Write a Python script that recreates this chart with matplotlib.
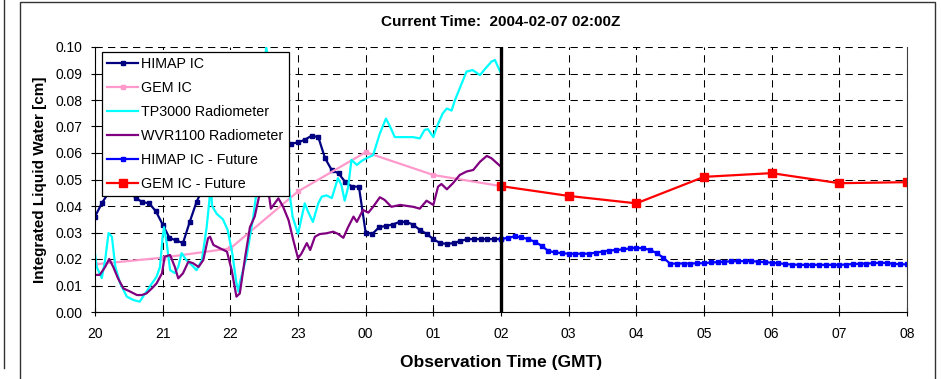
import numpy as np
import matplotlib
matplotlib.use("Agg")
import matplotlib.pyplot as plt
from matplotlib.patches import Rectangle
from matplotlib.lines import Line2D

plt.rcParams['font.family'] = ['Liberation Sans', 'DejaVu Sans']

# hours after 20Z
hour_ticks = list(range(13))
hour_labels = ["20", "21", "22", "23", "00", "01", "02", "03", "04", "05", "06", "07", "08"]

# HIMAP IC, one value every 6 min from 20Z to 02Z
himap_t = np.round(np.arange(0, 61) * 0.1, 1)
himap_v = [0.036, 0.041, 0.045, 0.048, 0.049, 0.046, 0.043, 0.0415, 0.041, 0.038,
           0.033, 0.028, 0.027, 0.026, 0.034, 0.0415, 0.047, 0.051, 0.054, 0.056,
           0.058, 0.059, 0.060, 0.060, 0.061, 0.061, 0.062, 0.062, 0.063, 0.0635,
           0.064, 0.065, 0.0665, 0.066, 0.058, 0.0535, 0.0523, 0.049, 0.0473, 0.0473,
           0.030, 0.0295, 0.032, 0.0325, 0.033, 0.034, 0.034, 0.033, 0.031, 0.0295,
           0.0275, 0.026, 0.0257, 0.026, 0.0268, 0.0275, 0.0275, 0.0275, 0.0275, 0.0275,
           0.0275]

# HIMAP IC - Future, 02Z to 08Z
himap_f_t = np.round(6 + np.arange(0, 61) * 0.1, 1)
himap_f_v = [0.0275, 0.0280, 0.0285, 0.0282, 0.0275, 0.0265, 0.0250, 0.0230, 0.0225, 0.0222,
             0.0220, 0.0220, 0.0220, 0.0220, 0.0224, 0.0228, 0.0232, 0.0234, 0.0236, 0.0240,
             0.0243, 0.0240, 0.0235, 0.0222, 0.0205, 0.0182, 0.0183, 0.0183, 0.0183, 0.0184,
             0.0184, 0.0187, 0.0188, 0.0190, 0.0191, 0.0192, 0.0192, 0.0192, 0.0190, 0.0188,
             0.0186, 0.0184, 0.0181, 0.0179, 0.0178, 0.0178, 0.0178, 0.0178, 0.0178, 0.0178,
             0.0178, 0.0179, 0.0181, 0.0182, 0.0183, 0.0184, 0.0186, 0.0185, 0.0182, 0.0180,
             0.0180]

gem_t = [0, 1, 2, 3, 4, 5, 6]
gem_v = [0.018, 0.0205, 0.024, 0.0455, 0.0603, 0.0517, 0.0475]

gem_f_t = [6, 7, 8, 9, 10, 11, 12]
gem_f_v = [0.0475, 0.0438, 0.041, 0.051, 0.0524, 0.0486, 0.049]

tp_t = [0.00, 0.025, 0.10, 0.15, 0.20, 0.25, 0.30, 0.37, 0.47, 0.57,
        0.66, 0.71, 0.81, 0.91, 0.96, 1.00, 1.02, 1.06, 1.11, 1.18,
        1.23, 1.28, 1.35, 1.43, 1.50, 1.58, 1.65, 1.69, 1.71, 1.73,
        1.80, 1.89, 1.96, 2.03, 2.09, 2.12, 2.14, 2.24, 2.34, 2.39,
        2.45, 2.53, 2.61, 2.73, 2.85, 2.92, 3.00, 3.10, 3.15, 3.22,
        3.30, 3.35, 3.42, 3.50, 3.59, 3.64, 3.69, 3.74, 3.79, 3.87,
        3.94, 4.01, 4.11, 4.21, 4.30, 4.36, 4.43, 4.70, 4.80, 4.87,
        4.92, 5.00, 5.07, 5.14, 5.20, 5.27, 5.32, 5.39, 5.49, 5.58,
        5.69, 5.76, 5.86, 5.91, 6.00]
tp_v = [0.022, 0.017, 0.0128, 0.0196, 0.0298, 0.0284, 0.0171, 0.0109, 0.0058, 0.0045,
        0.0039, 0.0058, 0.0096, 0.0133, 0.017, 0.0284, 0.032, 0.026, 0.0158, 0.0147,
        0.017, 0.0222, 0.0196, 0.0177, 0.0158, 0.0196, 0.032, 0.042, 0.050, 0.040,
        0.037, 0.035, 0.031, 0.022, 0.011, 0.0077, 0.011, 0.0209, 0.036, 0.046,
        0.075, 0.100, 0.085, 0.068, 0.050, 0.036, 0.0295, 0.041, 0.0378, 0.034,
        0.041, 0.0435, 0.044, 0.043, 0.0505, 0.048, 0.042, 0.047, 0.0574, 0.0555,
        0.057, 0.058, 0.0592, 0.0674, 0.073, 0.070, 0.066, 0.066, 0.0655, 0.0687,
        0.069, 0.066, 0.071, 0.075, 0.0768, 0.076, 0.080, 0.0844, 0.0907, 0.0913,
        0.0894, 0.0916, 0.0945, 0.0951, 0.090]

wvr_t = [0.00, 0.07, 0.15, 0.21, 0.27, 0.34, 0.42, 0.52, 0.62, 0.69,
         0.76, 0.84, 0.91, 0.99, 1.03, 1.11, 1.18, 1.23, 1.30, 1.38,
         1.45, 1.53, 1.60, 1.67, 1.70, 1.75, 1.85, 1.95, 2.02, 2.09,
         2.14, 2.22, 2.29, 2.36, 2.44, 2.50, 2.56, 2.60, 2.71, 2.78,
         2.86, 2.93, 3.00, 3.05, 3.13, 3.18, 3.25, 3.32, 3.42, 3.52,
         3.59, 3.67, 3.74, 3.82, 3.87, 3.96, 4.04, 4.11, 4.21, 4.28,
         4.38, 4.51, 4.70, 4.80, 4.90, 5.00, 5.07, 5.12, 5.20, 5.29,
         5.39, 5.49, 5.59, 5.69, 5.79, 5.86, 6.00]
wvr_v = [0.014, 0.014, 0.017, 0.020, 0.017, 0.0127, 0.0089, 0.0077, 0.0064, 0.0064,
         0.007, 0.0089, 0.0108, 0.0146, 0.0209, 0.0215, 0.017, 0.0127, 0.0146, 0.019,
         0.0184, 0.017, 0.0196, 0.0278, 0.0284, 0.0253, 0.024, 0.0228, 0.0158, 0.0058,
         0.007, 0.0209, 0.032, 0.036, 0.0454, 0.053, 0.046, 0.039, 0.0429, 0.0397,
         0.0347, 0.0272, 0.0203, 0.022, 0.026, 0.0234, 0.0284, 0.0294, 0.0297, 0.0303,
         0.0295, 0.028, 0.032, 0.036, 0.034, 0.0385, 0.0375, 0.0397, 0.0433, 0.0423,
         0.0397, 0.0404, 0.0397, 0.039, 0.042, 0.0404, 0.0473, 0.0483, 0.0463, 0.0486,
         0.0517, 0.053, 0.0536, 0.0567, 0.0589, 0.058, 0.0548]

current_hour = 6

fig = plt.figure(figsize=(9.41, 3.79), dpi=100)
W, H = 941, 379
ax = fig.add_axes([95 / W, 1 - 312 / H, (907 - 95) / W, (312 - 47) / H])

ax.plot(himap_t, himap_v, color="#000080", lw=1.6, marker="s", ms=3.2, label="HIMAP IC")
ax.plot(gem_t, gem_v, color="#FF99CC", lw=1.6, marker="s", ms=3.2, label="GEM IC")
ax.plot(tp_t, tp_v, color="#00FFFF", lw=1.6, label="TP3000 Radiometer")
ax.plot(wvr_t, wvr_v, color="#800080", lw=1.6, label="WVR1100 Radiometer")
ax.plot(himap_f_t, himap_f_v, color="#0000FF", lw=1.6, marker="s", ms=3.5, label="HIMAP IC - Future")
ax.plot(gem_f_t, gem_f_v, color="#FF0000", lw=1.6, marker="s", ms=5.5, label="GEM IC - Future")
ax.axvline(current_hour, color="black", lw=2.4, zorder=5)

ax.set_xlim(0, 12)
ax.set_ylim(0, 0.10)
ax.set_xticks(hour_ticks)
ax.set_xticklabels(hour_labels)
ax.set_yticks(np.round(np.arange(0, 0.101, 0.01), 2))
ax.yaxis.set_major_formatter(matplotlib.ticker.FormatStrFormatter("%.2f"))
ax.tick_params(direction="inout", length=6, width=0.8, labelsize=10)
ax.tick_params(axis="x", pad=8)
ax.tick_params(axis="y", pad=6)
ax.grid(True, color="black", lw=0.75, linestyle=(0, (7, 5)))
ax.set_axisbelow(True)
ax.spines["top"].set_visible(False)
ax.spines["right"].set_color("#404040")
ax.spines["right"].set_linewidth(0.8)

ax.set_title("Current Time:  2004-02-07 02:00Z", fontsize=11, fontweight="bold", pad=15)
ax.set_xlabel("Observation Time (GMT)", fontsize=12.5, fontweight="bold", labelpad=10)
ax.set_ylabel("Integrated Liquid Water [cm]", fontsize=11, fontweight="bold", labelpad=6)

leg = ax.legend(loc="upper left", bbox_to_anchor=(7 / 812, 260 / 265), borderaxespad=0,
                fontsize=10.3, fancybox=False, framealpha=1, edgecolor="black",
                handlelength=2.2, handletextpad=0.2, labelspacing=0.7, borderpad=0.35)
leg.get_frame().set_linewidth(0.9)
leg.set_zorder(10)

# outer chart frame
fig.add_artist(Rectangle((20 / W, -0.01), 915 / W, 1.01 - 2 / H, transform=fig.transFigure,
                         fill=False, edgecolor="#333333", lw=1.0))
fig.add_artist(Line2D([4 / W, 4 / W], [1 - 368 / H, 1.0], transform=fig.transFigure,
                      color="#333333", lw=1.0))

fig.savefig("out.png", dpi=100)
